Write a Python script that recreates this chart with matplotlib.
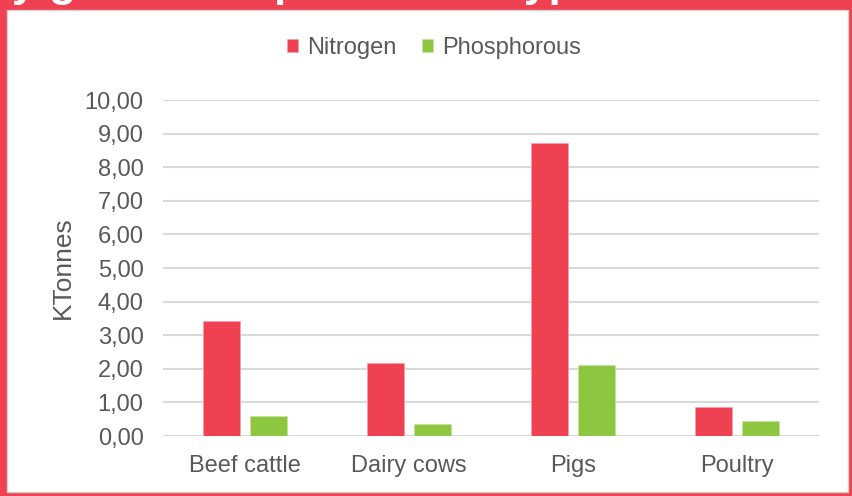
import matplotlib
matplotlib.use("Agg")
import matplotlib.pyplot as plt
import numpy as np
from matplotlib.patches import Rectangle
from matplotlib.font_manager import FontProperties

categories = ["Beef cattle", "Dairy cows", "Pigs", "Poultry"]
nitrogen = [3.42, 2.17, 8.73, 0.86]
phosphorous = [0.61, 0.36, 2.12, 0.44]
series_names = ["Nitrogen", "Phosphorous"]
yticks = [0, 1, 2, 3, 4, 5, 6, 7, 8, 9, 10]
title = "Nitrogen and phosphorous yearly generated per animal type"

RED = "#EF4152"
GREEN = "#8DC63F"
TXT = "#595959"
W, H = 853, 496

plt.rcParams['font.family'] = ['Liberation Sans', 'DejaVu Sans']
fig = plt.figure(figsize=(W / 100, H / 100), dpi=100)
fig.patch.set_facecolor(RED)

# white inner panel
fig.patches.append(Rectangle((7 / W, 4 / H), 841 / W, 482 / H, transform=fig.transFigure,
                             facecolor="white", edgecolor="#D0D0D0", linewidth=1.0, zorder=-10))

# cut-off title: only the descenders show at the top edge
fp = FontProperties(family="Liberation Sans", weight="bold", size=32)
renderer = fig.canvas.get_renderer()
prefix = "Nitrogen and phosphorous yearl"
wpx, _, _ = renderer.get_text_width_height_descent(prefix, fp, ismath=False)
fig.text((12 - wpx) / W, 1 + 4.0 / H, title, fontproperties=fp, color="white",
         ha="left", va="baseline", zorder=-5)

ax = fig.add_axes([163 / W, (H - 436) / H, (819 - 163) / W, 336 / H])
x = np.arange(len(categories))
bw = 0.226
off = 0.143
ax.bar(x - off, nitrogen, bw, color=RED, edgecolor="#F7A0A8", linewidth=0.6, label=series_names[0], zorder=3)
ax.bar(x + off, phosphorous, bw, color=GREEN, edgecolor="#C6E3A0", linewidth=0.6, label=series_names[1], zorder=3)

ax.set_xlim(-0.5, len(categories) - 0.5)
ax.set_ylim(0, 10)
ax.set_yticks(yticks)
ax.set_yticklabels([f"{v:.2f}".replace(".", ",") for v in yticks])
ax.set_xticks(x)
ax.set_xticklabels(categories)
ax.tick_params(axis="both", length=0, labelsize=17, colors=TXT)
ax.tick_params(axis="y", pad=14)
ax.tick_params(axis="x", pad=14)
ax.grid(axis="y", color="#D9D9D9", linewidth=1.5, zorder=0)
ax.set_axisbelow(True)
for s in ax.spines.values():
    s.set_visible(False)
ax.set_facecolor("none")

ax.set_ylabel("KTonnes", fontsize=19, color=TXT, labelpad=7)

leg = fig.legend(loc="center", bbox_to_anchor=(434 / W, 1 - 48 / H), ncol=2, frameon=False,
                 fontsize=17, handlelength=0.45, handleheight=0.45, handletextpad=0.38,
                 columnspacing=1.1)
for t in leg.get_texts():
    t.set_color(TXT)

fig.savefig("out.png", dpi=100, facecolor=fig.get_facecolor())
